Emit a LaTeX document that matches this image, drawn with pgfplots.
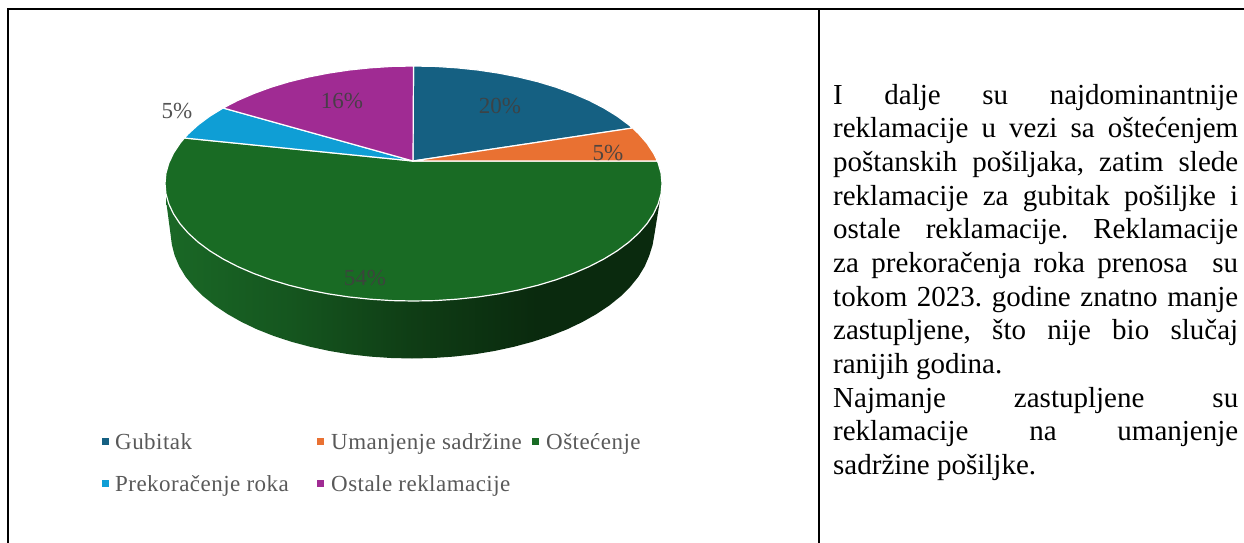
\documentclass[border=0pt]{standalone}
\usepackage{fontspec}
\setmainfont{Liberation Serif}
\newfontfamily\legfont[LetterSpace=2]{Liberation Serif}
\usepackage{pgfplots}
\pgfplotsset{compat=1.18}
\definecolor{cBlue}{HTML}{156082}
\definecolor{cOrange}{HTML}{E97132}
\definecolor{cGreen}{HTML}{196B24}
\definecolor{cSky}{HTML}{0F9ED5}
\definecolor{cPurple}{HTML}{A02B93}
\definecolor{cLab}{HTML}{404040}
\definecolor{cLeg}{HTML}{595959}
\definecolor{gA}{HTML}{1A6826}
\definecolor{gB}{HTML}{15561F}
\definecolor{gC}{HTML}{0F3D15}
\definecolor{gD}{HTML}{0A2A0E}
\pgfdeclarehorizontalshading{sidegreen}{100bp}{color(0bp)=(gA); color(25bp)=(gA); color(37.5bp)=(gB); color(50bp)=(gC); color(62.5bp)=(gD); color(100bp)=(gD)}
\newcommand{\bodyline}[2]{\node[anchor=base west,inner sep=0pt,text=black] at (axis cs:833,#1) {\fontsize{29}{33}\selectfont #2};}
\newcommand{\jl}[2]{\bodyline{#1}{\hbox to 405pt{#2}}}
\newcommand{\pct}[3]{\node[inner sep=0pt,text=cLab,opacity=0.9] at (axis cs:#1,#2) {\fontsize{23}{26}\selectfont #3\%};}
\newcommand{\leg}[3]{\node[anchor=base west,inner sep=0pt,text=cLeg] at (axis cs:#1,#2) {\legfont\fontsize{23}{26}\selectfont #3};}
\begin{document}
\begin{tikzpicture}
\useasboundingbox (0,0) rectangle (1244pt,543pt);
\begin{axis}[x=1pt,y=1pt,y dir=reverse,xmin=0,xmax=1244,ymin=0,ymax=543,hide axis,clip=false,scale only axis]
% frame
\addplot[black,line width=2pt,no marks] coordinates {(8,543) (8,9) (1244,9)};
\addplot[black,line width=2pt,no marks] coordinates {(819,9) (819,543)};
% side of the pie
\addplot[draw=none,shade,shading=sidegreen,no marks] coordinates {
(166,200) (170.5,234) (171.9,244.9) (174.7,255.6) (179.2,266.2) (185.5,276.6) (193.6,286.6) (203.3,296.3) (214.6,305.4) (227.4,314) (241.6,322) (257.1,329.4) (273.8,336) (291.5,341.8) (310.2,346.8) (329.6,351) (349.6,354.3) (370.2,356.6) (391,358) (412,358.5)
(433,358) (453.8,356.6) (474.4,354.3) (494.4,351) (513.8,346.8) (532.5,341.8) (550.2,336) (566.9,329.4) (582.4,322) (596.6,314) (609.4,305.4) (620.7,296.3) (630.4,286.6) (638.5,276.6) (644.8,266.2) (649.3,255.6) (652.6,244.9) (654.5,234) (660,200) (660,183) (166,183)} --cycle;
% Ostecenje 54
\addplot[fill=cGreen,draw=white,line width=1.2pt,no marks] coordinates {
(413,161) (657.4,161) (658.2,163.1) (661.1,173.3) (662,183.5) (661.1,193.7) (658.2,203.9) (653.5,213.9) (647,223.7) (638.7,233.2) (628.7,242.3) (617.1,250.9) (603.9,259) (589.2,266.6) (573.2,273.5) (556,279.8) (537.8,285.3) (518.5,290) (498.5,293.9) (477.8,297) (456.6,299.2) (435.2,300.6) (413.5,301)
(391.8,300.6) (370.4,299.2) (349.2,297) (328.5,293.9) (308.5,290) (289.2,285.3) (271,279.8) (253.8,273.5) (237.8,266.6) (223.1,259) (209.9,250.9) (198.3,242.3) (188.3,233.2) (180,223.7) (173.5,213.9) (168.8,203.9) (165.9,193.7) (165,183.5) (165.9,173.3) (168.8,163.1) (173.5,153.1) (180,143.3) (184.4,138)} --cycle;
% Gubitak 20
\addplot[fill=cBlue,draw=white,line width=1.2pt,no marks] coordinates {
(413,161) (413.5,66) (435.2,66.4) (456.6,67.8) (477.8,70) (498.5,73.1) (518.5,77) (537.8,81.7) (556,87.2) (573.2,93.5) (589.2,100.4) (603.9,108) (617.1,116.1) (628.7,124.7) (632.6,128)} --cycle;
% Umanjenje sadrzine 5
\addplot[fill=cOrange,draw=white,line width=1.2pt,no marks] coordinates {
(413,161) (632.6,128) (638.7,133.8) (647,143.3) (653.5,153.1) (657.4,161)} --cycle;
% Prekoracenje roka 5
\addplot[fill=cSky,draw=white,line width=1.2pt,no marks] coordinates {
(413,161) (184.4,138) (188.3,133.8) (198.3,124.7) (209.9,116.1) (223.1,108)} --cycle;
% Ostale reklamacije 16
\addplot[fill=cPurple,draw=white,line width=1.2pt,no marks] coordinates {
(413,161) (223.1,108) (237.8,100.4) (253.8,93.5) (271,87.2) (289.2,81.7) (308.5,77) (328.5,73.1) (349.2,70) (370.4,67.8) (391.8,66.4) (413.5,66)} --cycle;
% legend keys
\addplot[only marks,mark=square*,mark size=3pt,color=cBlue] coordinates {(105,441)};
\addplot[only marks,mark=square*,mark size=3pt,color=cOrange] coordinates {(320,441)};
\addplot[only marks,mark=square*,mark size=3pt,color=cGreen] coordinates {(535,441)};
\addplot[only marks,mark=square*,mark size=3pt,color=cSky] coordinates {(105,483)};
\addplot[only marks,mark=square*,mark size=3pt,color=cPurple] coordinates {(320,483)};
% labels
\pct{500}{106}{20}
\pct{608}{153}{5}
\pct{365}{278}{54}
\pct{177}{111}{5}
\pct{342}{101}{16}
\leg{115}{449}{Gubitak}
\leg{331}{449}{Umanjenje sadržine}
\leg{546}{449}{Oštećenje}
\leg{115}{491}{Prekoračenje roka}
\leg{331}{491}{Ostale reklamacije}
% text
\jl{104.3}{I\hfill dalje\hfill su\hfill najdominantnije}
\jl{137.9}{reklamacije\hfill u\hfill vezi\hfill sa\hfill oštećenjem}
\jl{171.6}{poštanskih\hfill pošiljaka,\hfill zatim\hfill slede}
\jl{205.2}{reklamacije\hfill za\hfill gubitak\hfill pošiljke\hfill i}
\jl{238.9}{ostale\hfill reklamacije.\hfill Reklamacije}
\jl{272.5}{za\hfill prekoračenja\hfill roka\hfill prenosa\hfill\hfill su}
\jl{306.1}{tokom\hfill 2023.\hfill godine\hfill znatno\hfill manje}
\jl{339.8}{zastupljene,\hfill što\hfill nije\hfill bio\hfill slučaj}
\bodyline{373.4}{ranijih godina.}
\jl{407.1}{Najmanje\hfill zastupljene\hfill su}
\jl{440.7}{reklamacije\hfill na\hfill umanjenje}
\bodyline{474.3}{sadržine pošiljke.}
\end{axis}
\end{tikzpicture}
\end{document}
